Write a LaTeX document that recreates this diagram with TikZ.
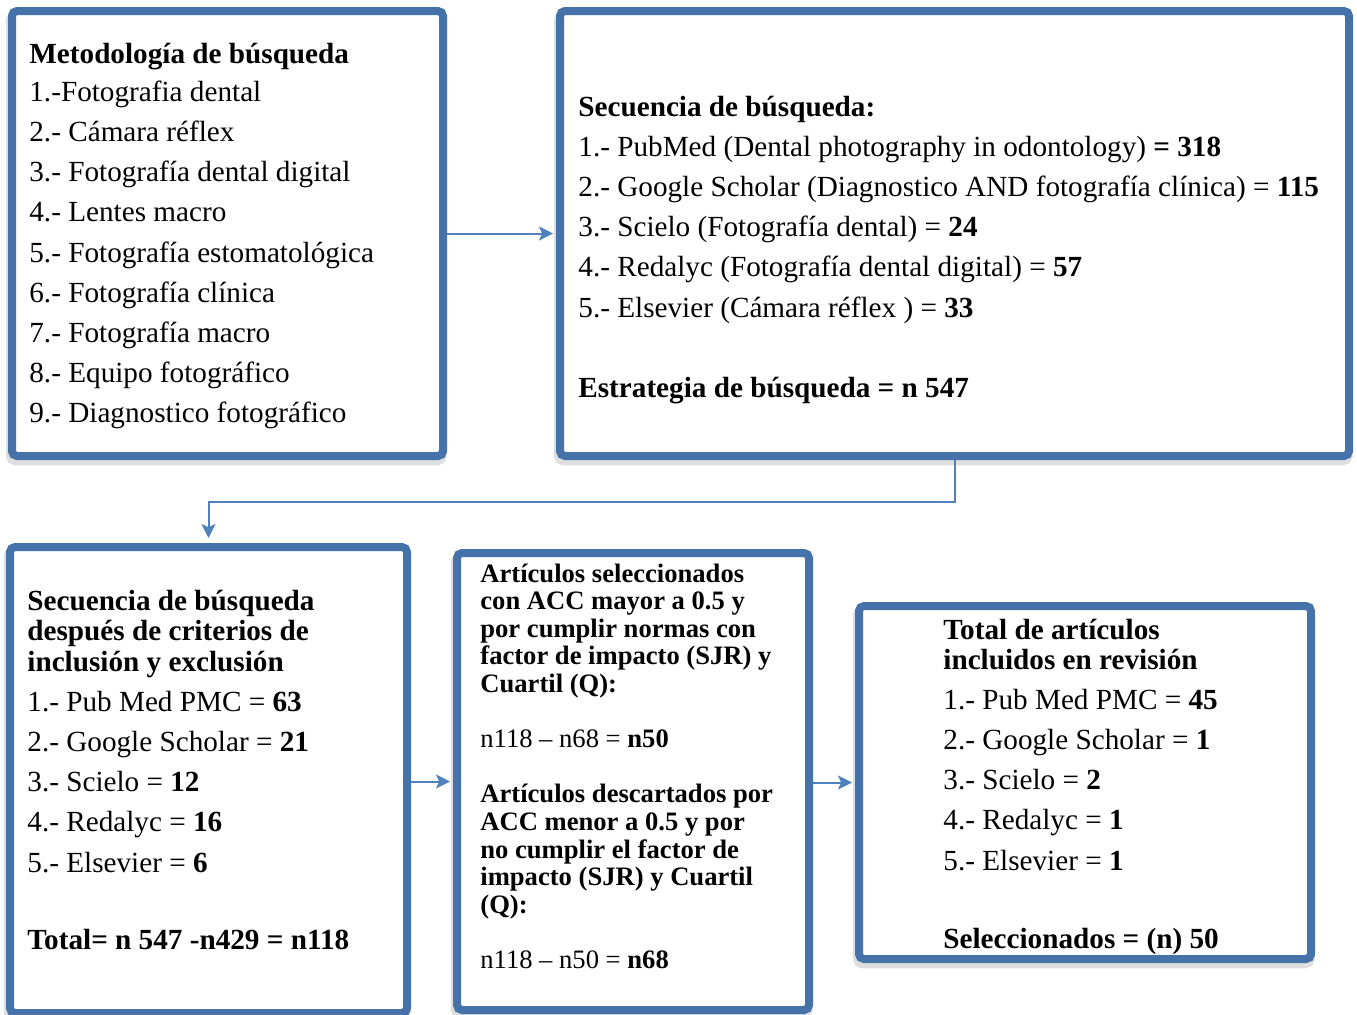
\documentclass[tikz,border=0pt]{standalone}
\usepackage{fontspec}
\setmainfont{Liberation Serif}
\usepackage{xcolor}
\usetikzlibrary{positioning,arrows.meta,shadows,calc}
\definecolor{marco}{RGB}{69,114,168}
\definecolor{linea}{RGB}{79,129,189}

\begin{document}
\begin{tikzpicture}[
  x=0.5pt, y=-0.5pt,
  box/.style={draw=marco, line width=4pt, rounded corners=2.5pt, fill=white, inner sep=0pt,
    general shadow={fill=black!13, draw=black!13, line width=5pt, shadow xshift=-0.6pt, shadow yshift=-2.2pt}},
  txt/.style={anchor=base west, inner sep=0pt, align=left, font=\fontsize{14.6}{20.1}\selectfont},
  smalltxt/.style={txt, font=\fontsize{13.3}{13.8}\selectfont},
  ar/.style={draw=linea, line width=1pt, -{Stealth[length=7pt,width=7pt,inset=1.6pt]}}]

  \useasboundingbox (0,0) rectangle (1357,1014);

  % boxes
  \node[box, minimum width=215.5pt, minimum height=222.5pt] (metodo) at (227.5,233.5) {};
  \node[box, minimum width=394.5pt, minimum height=222.5pt] (secuencia) at (954.5,233.5) {};
  \node[box, minimum width=198.5pt, minimum height=233pt] (criterios) at (208.5,780) {};
  \node[box, minimum width=176pt, minimum height=228.5pt] (articulos) at (633,781.5) {};
  \node[box, minimum width=226pt, minimum height=176.5pt] (total) at (1085,782.5) {};

  % texts
  \node[txt] (metodotxt) at (29,63) {\begin{tabular}[t]{@{}l@{}}
    \textbf{Metodología de búsqueda}\\[-1pt]
    1.-Fotografia dental\\
    2.- Cámara réflex\\
    3.- Fotografía dental digital\\
    4.- Lentes macro\\
    5.- Fotografía estomatológica\\
    6.- Fotografía clínica\\
    7.- Fotografía macro\\
    8.- Equipo fotográfico\\
    9.- Diagnostico fotográfico
  \end{tabular}};

  \node[txt] (secuenciatxt) at (578,116) {\begin{tabular}[t]{@{}l@{}}
    \textbf{Secuencia de búsqueda:}\\
    1.- PubMed (Dental photography in odontology) \textbf{= 318}\\
    2.- Google Scholar (Diagnostico AND fotografía clínica) = \textbf{115}\\
    3.- Scielo (Fotografía dental) = \textbf{24}\\
    4.- Redalyc (Fotografía dental digital) = \textbf{57}\\
    5.- Elsevier (Cámara réflex ) = \textbf{33}\\[20.1pt]
    \textbf{Estrategia de búsqueda = n 547}
  \end{tabular}};

  \node[txt] (criteriostxt) at (27,610) {\begin{tabular}[t]{@{}l@{}}
    \textbf{Secuencia de búsqueda}\\[-4.85pt]
    \textbf{después de criterios de}\\[-4.85pt]
    \textbf{inclusión y exclusión}\\
    1.- Pub Med PMC = \textbf{63}\\
    2.- Google Scholar = \textbf{21}\\
    3.- Scielo = \textbf{12}\\
    4.- Redalyc = \textbf{16}\\
    5.- Elsevier = \textbf{6}\\[18.4pt]
    \textbf{Total= n 547 -n429 = n118}
  \end{tabular}};

  \node[smalltxt] (articulostxt) at (480,582) {\begin{tabular}[t]{@{}l@{}}
    \textbf{Artículos seleccionados}\\
    \textbf{con ACC mayor a 0.5 y}\\
    \textbf{por cumplir normas con}\\
    \textbf{factor de impacto (SJR) y}\\
    \textbf{Cuartil (Q):}\\[13.8pt]
    n118 – n68 = \textbf{n50}\\[13.8pt]
    \textbf{Artículos descartados por}\\
    \textbf{ACC menor a 0.5 y por}\\
    \textbf{no cumplir el factor de}\\
    \textbf{impacto (SJR) y Cuartil}\\
    \textbf{(Q):}\\[13.8pt]
    n118 – n50 = \textbf{n68}
  \end{tabular}};

  \node[txt] (totaltxt) at (943,639) {\begin{tabular}[t]{@{}l@{}}
    \textbf{Total de artículos}\\[-5.1pt]
    \textbf{incluidos en revisión}\\
    1.- Pub Med PMC = \textbf{45}\\
    2.- Google Scholar = \textbf{1}\\
    3.- Scielo = \textbf{2}\\
    4.- Redalyc = \textbf{1}\\
    5.- Elsevier = \textbf{1}\\[19pt]
    \textbf{Seleccionados = (n) 50}
  \end{tabular}};

  % connectors
  \draw[ar, shorten >=1.5pt] (metodo) -- (secuencia);
  \draw[ar, shorten >=2.5pt] (secuencia.south) |- ($(secuencia.south)!0.5!(criterios.north)$) -| (criterios.north);
  \draw[ar, shorten >=1.5pt] (criterios.east |- articulos.west) -- (articulos.west);
  \draw[ar, shorten >=1.5pt] (articulos.east |- total.west) -- (total.west);
\end{tikzpicture}
\end{document}
